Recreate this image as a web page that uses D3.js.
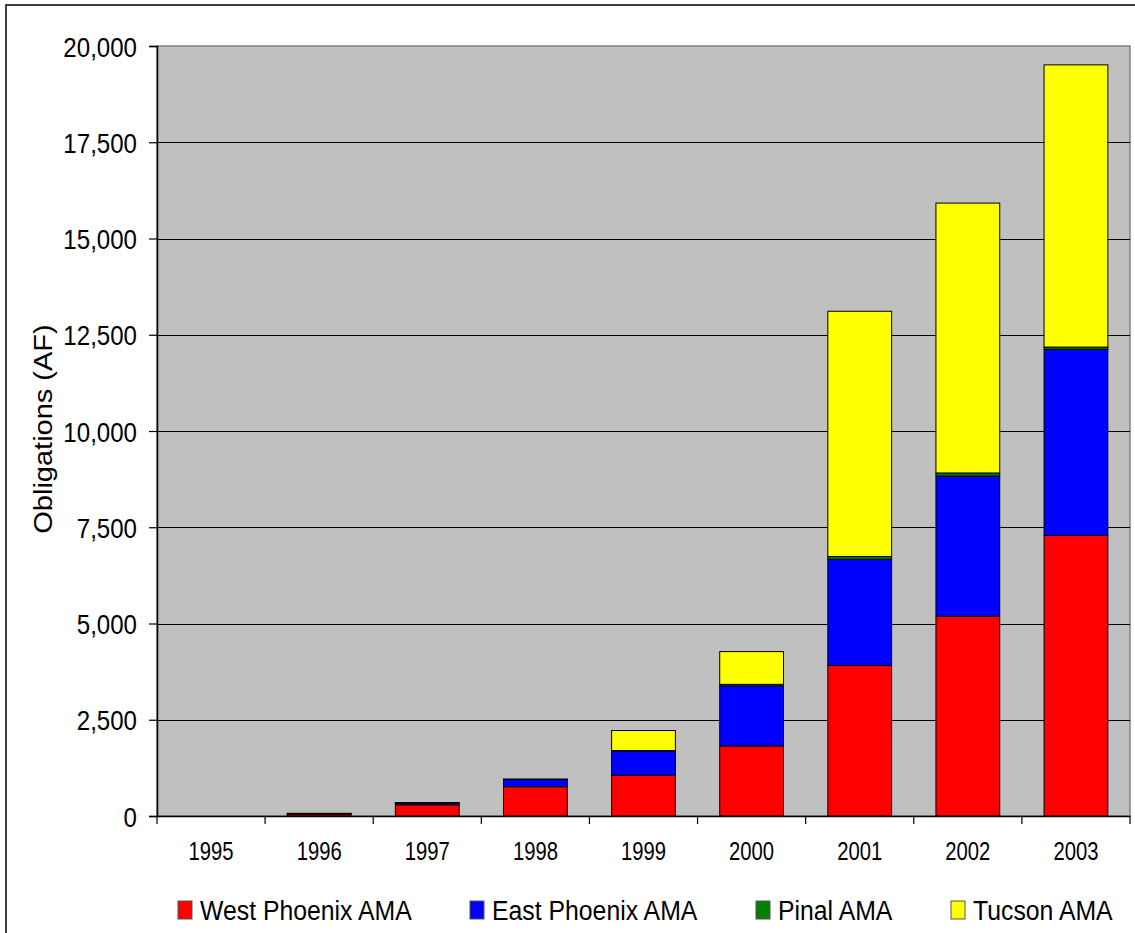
<!DOCTYPE html>
<html>
<head>
<meta charset="utf-8">
<script src="https://cdn.jsdelivr.net/npm/d3@7/dist/d3.min.js"></script>
<style>
  html, body { margin: 0; padding: 0; background: #fff; }
  svg { display: block; font-family: "Liberation Sans", Arial, sans-serif; }
</style>
</head>
<body>
<svg id="chart" width="1135" height="933"></svg>
<script>
// Annual obligations (acre-feet) by Active Management Area
const years = ["1995", "1996", "1997", "1998", "1999", "2000", "2001", "2002", "2003"];
const westPhoenix = [0, 50, 290, 760, 1060, 1820, 3910, 5190, 7290];
const eastPhoenix = [0, 15, 40, 190, 630, 1560, 2760, 3640, 4830];
const pinal       = [0, 5, 10, 10, 10, 40, 70, 80, 60];
const tucson      = [0, 0, 10, 0, 520, 850, 6370, 7010, 7330];

const seriesNames = ["West Phoenix AMA", "East Phoenix AMA", "Pinal AMA", "Tucson AMA"];
const seriesColors = ["#ff0000", "#0000ff", "#008000", "#ffff00"];
const yTicks = [0, 2500, 5000, 7500, 10000, 12500, 15000, 17500, 20000];
const yTitle = "Obligations (AF)";

const seriesValues = [westPhoenix, eastPhoenix, pinal, tucson];
const rows = years.map((y, i) => {
  const r = { year: y };
  seriesNames.forEach((s, k) => { r[s] = seriesValues[k][i]; });
  return r;
});

const svg = d3.select("#chart");

// outer chart frame
svg.append("rect")
  .attr("x", 6).attr("y", 5)
  .attr("width", 1160).attr("height", 960)
  .attr("fill", "#fff").attr("stroke", "#000").attr("stroke-width", 1.5);

const plot = { left: 157, top: 46, right: 1130, bottom: 816 };

const x = d3.scaleBand()
  .domain(years)
  .range([plot.left, plot.right])
  .paddingInner(0.41)
  .paddingOuter(0.205);

const y = d3.scaleLinear()
  .domain([0, 20000])
  .range([plot.bottom, plot.top]);

// plot background
svg.append("rect")
  .attr("x", plot.left).attr("y", plot.top)
  .attr("width", plot.right - plot.left).attr("height", plot.bottom - plot.top)
  .attr("fill", "#c0c0c0").attr("stroke", "#808080").attr("stroke-width", 1.5);

// horizontal gridlines
svg.append("g")
  .selectAll("line")
  .data(yTicks.filter(t => t > 0 && t < 20000))
  .join("line")
  .attr("x1", plot.left).attr("x2", plot.right)
  .attr("y1", d => Math.round(y(d)) + 0.5).attr("y2", d => Math.round(y(d)) + 0.5)
  .attr("stroke", "#000").attr("stroke-width", 1);

// stacked bars
const stack = d3.stack().keys(seriesNames);
const layers = stack(rows);

svg.append("g")
  .selectAll("g")
  .data(layers)
  .join("g")
  .attr("fill", (d, i) => seriesColors[i])
  .selectAll("rect")
  .data(d => d.filter(p => p[1] - p[0] > 0))
  .join("rect")
  .attr("x", d => x(d.data.year))
  .attr("width", x.bandwidth())
  .attr("y", d => y(d[1]))
  .attr("height", d => y(d[0]) - y(d[1]))
  .attr("stroke", "#000")
  .attr("stroke-width", 1);

// y axis
const yAxis = d3.axisLeft(y)
  .tickValues(yTicks)
  .tickSize(8)
  .tickPadding(12)
  .tickFormat(d3.format(","));

const yg = svg.append("g")
  .attr("transform", `translate(${plot.left},0)`)
  .call(yAxis);
yg.select(".domain").attr("stroke", "#000").attr("stroke-width", 1.5);
yg.selectAll(".tick line").attr("stroke", "#000").attr("stroke-width", 1.2);
yg.selectAll(".tick text")
  .attr("font-size", 28)
  .attr("fill", "#000")
  .attr("dy", "0.36em")
  .attr("x", null)
  .attr("transform", "translate(-20,0) scale(0.86,1)");

// x axis with ticks on category boundaries
const xAxis = d3.axisBottom(x).tickSize(0).tickPadding(20);
const xg = svg.append("g")
  .attr("transform", `translate(0,${plot.bottom})`)
  .call(xAxis);
xg.select(".domain").attr("stroke", "#000").attr("stroke-width", 1.5);
xg.selectAll(".tick text")
  .attr("font-size", 25)
  .attr("fill", "#000")
  .attr("y", null).attr("dy", null)
  .attr("transform", "translate(0,44) scale(0.81,1)");

const step = x.step();
const boundaries = d3.range(years.length + 1).map(i => plot.left + i * step);
xg.selectAll(".boundary")
  .data(boundaries)
  .join("line")
  .attr("class", "boundary")
  .attr("x1", d => d).attr("x2", d => d)
  .attr("y1", 0).attr("y2", 8)
  .attr("stroke", "#000").attr("stroke-width", 1.2);

// y axis title
svg.append("text")
  .attr("transform", "translate(52,429) rotate(-90) scale(1,0.86)")
  .attr("text-anchor", "middle")
  .attr("font-size", 29)
  .attr("fill", "#000")
  .text(yTitle);

// legend
const legendX = [178, 470, 756, 951];
const legend = svg.append("g")
  .selectAll("g")
  .data(seriesNames)
  .join("g")
  .attr("transform", (d, i) => `translate(${legendX[i]},901)`);

legend.append("rect")
  .attr("width", 14).attr("height", 18)
  .attr("fill", (d, i) => seriesColors[i])
  .attr("stroke", "#555").attr("stroke-width", 1);

legend.append("text")
  .attr("transform", "translate(22,18.5) scale(0.886,1)")
  .attr("font-size", 28)
  .attr("fill", "#000")
  .text(d => d);
</script>
</body>
</html>
